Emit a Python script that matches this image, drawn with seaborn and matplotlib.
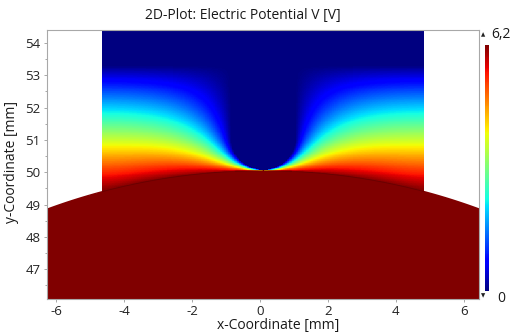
import numpy as np
import matplotlib
matplotlib.use("Agg")
import matplotlib.pyplot as plt
import seaborn as sns

# ---- plot extent and tick labels (mm) ----
x_limits = [-6.27, 6.45]
y_limits = [46.08, 54.40]
x_ticks = [-6, -4, -2, 0, 2, 4, 6]
y_ticks = [47, 48, 49, 50, 51, 52, 53, 54]

# ---- electrode potentials (V) ----
potentials = [0.0, 6.2]          # upper (tip) electrode, lower electrode

# ---- geometry (mm) ----
domain_x = [-4.65, 4.82]         # air domain side walls
top_electrode_y = 53.30          # grounded upper body
tip_center = [0.10, 51.03]       # centre of the hemispherical tip end
tip_radius = 0.95
plate_center = [0.10, 32.45]     # lower electrode: large circular segment
plate_radius = 17.60

cell = 0.02                      # final grid spacing


def electrode_masks(X, Y):
    plate = (X - plate_center[0]) ** 2 + (Y - plate_center[1]) ** 2 <= plate_radius ** 2
    tip = (((np.abs(X - tip_center[0]) <= tip_radius) & (Y >= tip_center[1]))
           | ((X - tip_center[0]) ** 2 + (Y - tip_center[1]) ** 2 <= tip_radius ** 2)
           | (Y >= top_electrode_y))
    return plate, tip


def relax(xs, ys, V0, iters):
    """Jacobi relaxation of Laplace's equation, insulating side walls."""
    X, Y = np.meshgrid(xs, ys)
    plate, tip = electrode_masks(X, Y)
    fixed = plate | tip
    vals = np.where(plate, potentials[1], potentials[0])
    V = np.where(fixed, vals, V0)
    for _ in range(iters):
        P = np.pad(V, 1, mode="edge")
        V = 0.25 * (P[:-2, 1:-1] + P[2:, 1:-1] + P[1:-1, :-2] + P[1:-1, 2:])
        V = np.where(fixed, vals, V)
    return V


def resample(V, xs_o, ys_o, xs_n, ys_n):
    tmp = np.array([np.interp(xs_n, xs_o, row) for row in V])
    return np.array([np.interp(ys_n, ys_o, col) for col in tmp.T]).T


# display grid (cell centres)
nx = int(round((x_limits[1] - x_limits[0]) / cell))
ny = int(round((y_limits[1] - y_limits[0]) / cell))
xs_disp = x_limits[0] + cell * (np.arange(nx) + 0.5)
ys_disp = y_limits[0] + cell * (np.arange(ny) + 0.5)
in_domain = (xs_disp >= domain_x[0]) & (xs_disp <= domain_x[1])

# coarse-to-fine solve inside the air domain
levels = [(0.16, 3000), (0.08, 1500), (0.04, 800), (cell, 700)]
V = None
prev = None
for h, iters in levels:
    if h == cell:
        xs = xs_disp[in_domain]
        ys = ys_disp
    else:
        xs = np.arange(domain_x[0] + h / 2, domain_x[1], h)
        ys = np.arange(y_limits[0] + h / 2, y_limits[1], h)
    if V is None:
        Yg = np.meshgrid(xs, ys)[1]
        V0 = np.clip((top_electrode_y - Yg) / (top_electrode_y - 49.4), 0, 1) * potentials[1]
    else:
        V0 = resample(V, prev[0], prev[1], xs, ys)
    V = relax(xs, ys, V0, iters)
    prev = (xs, ys)

# assemble the displayed field: white outside the domain, lower electrode everywhere
Xd, Yd = np.meshgrid(xs_disp, ys_disp)
plate_disp, _ = electrode_masks(Xd, Yd)
field = np.full((ny, nx), np.nan)
field[:, in_domain] = V
field[plate_disp] = potentials[1]
field = field[::-1]              # first row = top of the plot

# ---- figure ----
sns.set_theme(style="white")
plt.rcParams["font.family"] = ["Open Sans", "DejaVu Sans"]

W, H = 513, 335
fig = plt.figure(figsize=(W / 100, H / 100), dpi=100)
ax = fig.add_axes([47 / W, (H - 299) / H, 432 / W, 269 / H])
cax = fig.add_axes([485 / W, (H - 291) / H, 4 / W, 246 / H])

cmap = plt.get_cmap("jet")
sns.heatmap(field, ax=ax, cmap=cmap, vmin=potentials[0], vmax=potentials[1],
            cbar_ax=cax, xticklabels=False, yticklabels=False, rasterized=True)
ax.set_facecolor("white")


def col_of(x):
    return (x - x_limits[0]) / cell


def row_of(y):
    return (y_limits[1] - y) / cell


def plate_top(x):
    return plate_center[1] + np.sqrt(plate_radius ** 2 - (x - plate_center[0]) ** 2)


# smooth outline of the lower electrode where it borders the empty region
plate_color = cmap(1.0)
for xa, xb in [(x_limits[0], domain_x[0]), (domain_x[1], x_limits[1])]:
    sx = np.linspace(xa, xb, 80)
    ax.plot(col_of(sx), row_of(plate_top(sx)), color=plate_color, lw=1.0,
            solid_capstyle="butt")
# faint boundary line of the lower electrode inside the domain
arc_x = np.linspace(domain_x[0], domain_x[1], 200)
ax.plot(col_of(arc_x), row_of(plate_top(arc_x)), color="#5e0000", lw=0.6, alpha=0.7)

ax.set_xticks([col_of(v) for v in x_ticks])
ax.set_xticklabels([str(v) for v in x_ticks])
ax.set_yticks([row_of(v) for v in y_ticks])
ax.set_yticklabels([str(v) for v in y_ticks], rotation=0)
ax.set_yticks([row_of(v + 0.5) for v in y_ticks[:-1]] + [row_of(46.5)], minor=True)
ax.tick_params(axis="both", which="both", labelsize=9.5, colors="#222222",
               length=2.5, width=0.6, pad=2, bottom=True, left=True)
ax.tick_params(axis="both", which="both", color="#9a9a9a")
ax.tick_params(axis="y", which="minor", length=1.5)
ax.set_xlabel("")
ax.set_ylabel("")
for s in ax.spines.values():
    s.set_visible(True)
    s.set_color("#a8a8a8")
    s.set_linewidth(0.8)

cbar = ax.collections[0].colorbar
cbar.set_ticks([])
cbar.outline.set_visible(False)

fig.text(243 / W, 1 - 15 / H, "2D-Plot: Electric Potential V [V]",
         ha="center", va="center", fontsize=10, color="#1a1a1a")
fig.text(278 / W, 1 - 325 / H, "x-Coordinate [mm]",
         ha="center", va="center", fontsize=10, color="#1a1a1a")
fig.text(12 / W, 1 - 162 / H, "y-Coordinate [mm]", rotation=90,
         ha="center", va="center", fontsize=10, color="#1a1a1a")
fig.text(483 / W, 1 - 35 / H, "\u25b2", ha="center", va="center",
         fontsize=4, color="#222222", family="DejaVu Sans")
fig.text(491 / W, 1 - 34 / H, "6,2", ha="left", va="center",
         fontsize=10, color="#1a1a1a")
fig.text(483 / W, 1 - 296 / H, "\u25bc", ha="center", va="center",
         fontsize=4, color="#222222", family="DejaVu Sans")
fig.text(497 / W, 1 - 298 / H, "0", ha="left", va="center",
         fontsize=10, color="#1a1a1a")

fig.savefig("out.png", dpi=100)
